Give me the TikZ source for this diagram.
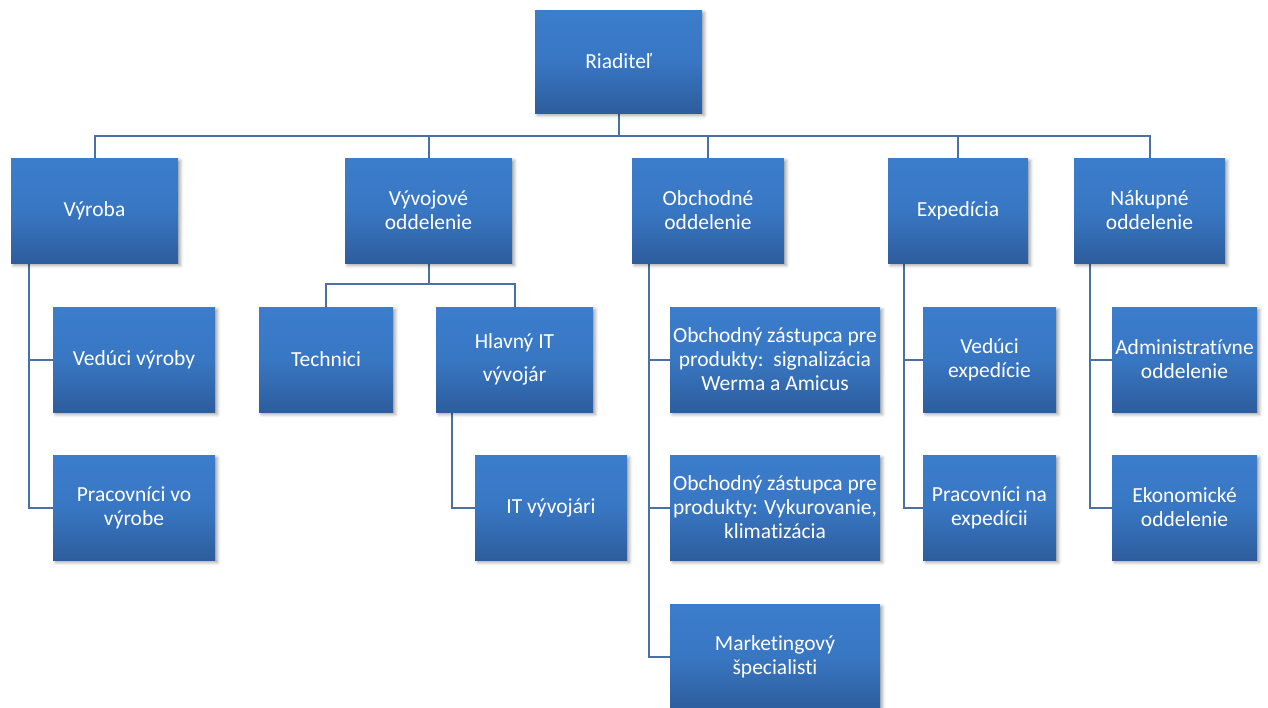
\documentclass[tikz,border=0pt]{standalone}
\usepackage{fontspec}
\setmainfont{Carlito}[RawFeature=-liga]
\usetikzlibrary{positioning, backgrounds, shadows.blur}
\definecolor{boxtop}{RGB}{59,125,204}
\definecolor{boxbottom}{RGB}{45,93,157}
\definecolor{linkblue}{RGB}{74,112,166}
\tikzset{
  unit/.style={rectangle, inner sep=2pt, align=center, text=white,
    top color=boxtop, bottom color=boxbottom, middle color=boxtop!80!boxbottom,
    blur shadow={shadow xshift=2.5pt, shadow yshift=-2.5pt, shadow blur radius=3pt, shadow opacity=35},
    font=\fontsize{21.5}{24}\selectfont},
  link/.style={draw=linkblue, line width=2pt}
}
\begin{document}
\begin{tikzpicture}[x=1pt, y=-1pt]
        \useasboundingbox (0,0) rectangle (1268,707);

        % vedenie
        \node (dir) [unit, minimum width=167pt, minimum height=103pt] at (618.5,61.5) {Riaditeľ};

        % oddelenia
        \node (vyroba) [unit, minimum width=167pt, minimum height=105pt] at (94.5,210.5) {Výroba};
        \node (vyvoj) [unit, minimum width=167pt, minimum height=105pt] at (428.5,210.5) {Vývojové\\oddelenie};
        \node (obchod) [unit, minimum width=152pt, minimum height=105pt] at (708,210.5) {Obchodné\\oddelenie};
        \node (exped) [unit, minimum width=140pt, minimum height=105pt] at (958,210.5) {Expedícia};
        \node (nakup) [unit, minimum width=151pt, minimum height=105pt] at (1149.5,210.5) {Nákupné\\oddelenie};

        % vyroba
        \node (vedvyr) [unit, minimum width=162pt, minimum height=105pt] at (134,359.5) {Vedúci výroby};
        \node (pracvyr) [unit, minimum width=162pt, minimum height=105pt] at (134,507.5) {Pracovníci vo\\výrobe};

        % vyvoj
        \node (tech) [unit, minimum width=134pt, minimum height=105pt] at (326,359.5) {Technici};
        \node (hlavit) [unit, minimum width=157pt, minimum height=105pt] at (514.5,359.5) {Hlavný IT\\[9pt]vývojár};
        \node (itvyv) [unit, minimum width=152pt, minimum height=105pt] at (551,507.5) {IT vývojári};

        % obchod
        \node (zast1) [unit, minimum width=210pt, minimum height=105pt] at (775,359.5) {Obchodný zástupca pre\\produkty:\ \ signalizácia\\Werma a Amicus};
        \node (zast2) [unit, minimum width=210pt, minimum height=105pt] at (775,507.5) {Obchodný zástupca pre\\produkty: Vykurovanie,\\klimatizácia};
        \node (market) [unit, minimum width=210pt, minimum height=105pt] at (775,656.5) {Marketingový\\špecialisti};

        % expedicia
        \node (vedexp) [unit, minimum width=133pt, minimum height=105pt] at (989.5,359.5) {Vedúci\\expedície};
        \node (pracexp) [unit, minimum width=133pt, minimum height=105pt] at (989.5,507.5) {Pracovníci na\\expedícii};

        % nakup
        \node (admin) [unit, minimum width=145pt, minimum height=105pt] at (1184.5,359.5) {Administratívne\\oddelenie};
        \node (ekon) [unit, minimum width=145pt, minimum height=105pt] at (1184.5,507.5) {Ekonomické\\oddelenie};

        \begin{scope}[on background layer]
            % riaditel -> oddelenia
            \foreach \dept in {vyroba,vyvoj,obchod,exped,nakup}
                \draw [link] (dir.south) -- ++(0,23) -| (\dept.north);

            % vyvoj -> technici, hlavny IT
            \foreach \sub in {tech,hlavit}
                \draw [link] (vyvoj.south) -- ++(0,21) -| (\sub.north);

            % bocne vetvy
            \foreach \sub in {vedvyr,pracvyr}
                \draw [link] ([xshift=18pt]vyroba.south west) |- (\sub.west);
            \draw [link] ([xshift=16pt]hlavit.south west) |- (itvyv.west);
            \foreach \sub in {zast1,zast2,market}
                \draw [link] ([xshift=17pt]obchod.south west) |- (\sub.west);
            \foreach \sub in {vedexp,pracexp}
                \draw [link] ([xshift=16pt]exped.south west) |- (\sub.west);
            \foreach \sub in {admin,ekon}
                \draw [link] ([xshift=16pt]nakup.south west) |- (\sub.west);
        \end{scope}
\end{tikzpicture}
\end{document}
